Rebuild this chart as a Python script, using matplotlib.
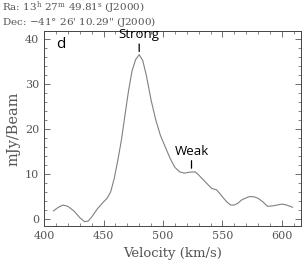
import numpy as np
import matplotlib.pyplot as plt
from matplotlib.ticker import MultipleLocator

# spectrum
velocity = [408, 412, 416, 420, 425, 430, 434, 437, 440, 445, 450, 453, 456, 459,
            462, 465, 468, 471, 474, 477, 480, 483, 486, 490, 494, 498, 502, 506,
            510, 514, 518, 522, 527, 530, 534, 538, 541, 545, 548, 551, 554, 557,
            560, 563, 566, 570, 573, 577, 580, 584, 588, 592, 596, 600, 604, 609]
flux = [1.8, 2.6, 3.1, 2.8, 1.8, 0.3, -0.6, -0.5, 0.4, 2.3, 3.8, 4.6, 6.0, 9.0,
        13.0, 17.5, 23.0, 28.5, 33.0, 35.5, 36.6, 35.3, 32.0, 26.5, 22.0, 18.5, 16.0, 13.5,
        11.5, 10.5, 10.2, 10.4, 10.5, 9.8, 8.7, 7.6, 6.8, 6.5, 5.6, 4.6, 3.7, 3.1,
        3.1, 3.5, 4.2, 4.7, 5.0, 4.9, 4.6, 3.8, 2.8, 2.9, 3.1, 3.3, 3.1, 2.6]

plt.rcParams['font.family'] = 'DejaVu Serif'
plt.rcParams['mathtext.fontset'] = 'dejavuserif'

fig = plt.figure(figsize=(3.08, 2.62), dpi=100)
ax = fig.add_axes([0.143, 0.137, 0.834, 0.745])

ax.plot(velocity, flux, color='#808080', lw=0.8)
ax.set_xlim(400, 616)
ax.set_ylim(-1.6, 41.9)
ax.xaxis.set_major_locator(MultipleLocator(50))
ax.xaxis.set_minor_locator(MultipleLocator(10))
ax.yaxis.set_major_locator(MultipleLocator(10))
ax.yaxis.set_minor_locator(MultipleLocator(2))
ax.tick_params(which='both', direction='in', top=True, right=True,
               labelsize=8, labelcolor='#555555', color='#555555')
ax.tick_params(which='major', length=4, width=0.6)
ax.tick_params(which='minor', length=2, width=0.5)
for s in ax.spines.values():
    s.set_linewidth(0.7)
    s.set_color('#444444')

ax.set_xlabel('Velocity (km/s)', fontsize=9.5, color='#555555', labelpad=4)
ax.set_ylabel('mJy/Beam', fontsize=10.5, color='#555555', labelpad=3)

# annotations
ax.text(0.065, 0.93, 'd', transform=ax.transAxes, fontsize=11, family='Open Sans',
        ha='center', va='center', weight='medium')
ax.annotate('Strong', xy=(480, 37.3), xytext=(480, 39.6), ha='center', va='bottom',
            fontsize=9.5, family='Open Sans', weight='medium',
            arrowprops=dict(arrowstyle='-', lw=0.9, color='black', shrinkA=0, shrinkB=0))
ax.annotate('Weak', xy=(524, 11.3), xytext=(524, 13.6), ha='center', va='bottom',
            fontsize=9.5, family='Open Sans', weight='medium',
            arrowprops=dict(arrowstyle='-', lw=0.9, color='black', shrinkA=0, shrinkB=0))

fig.text(0.005, 1 - 11 / 262, r'Ra: 13$^{\rm h}$ 27$^{\rm m}$ 49.81$^{\rm s}$ (J2000)',
         fontsize=7.5, color='#555555', va='baseline')
fig.text(0.005, 1 - 25 / 262, "Dec: $-$41\u00b0 26' 10.29\" (J2000)",
         fontsize=7.5, color='#555555', va='baseline')

fig.savefig('out.png', dpi=100)
